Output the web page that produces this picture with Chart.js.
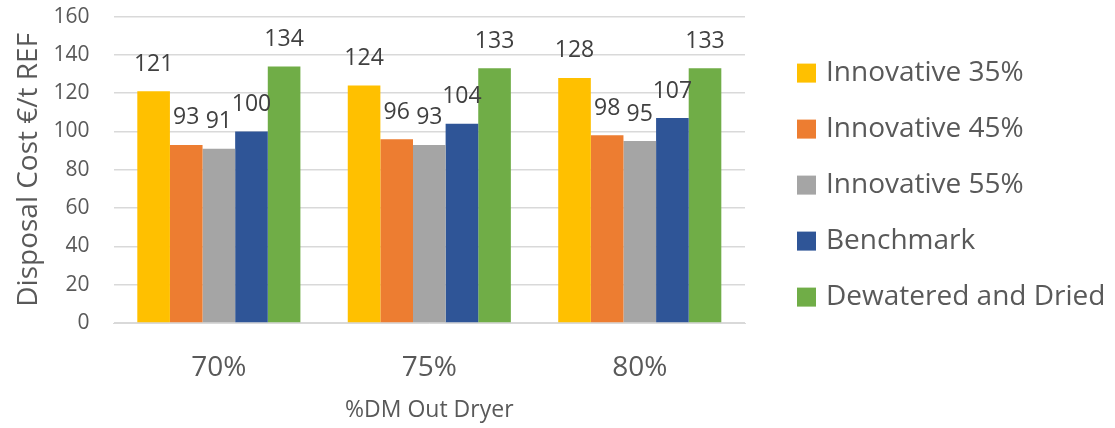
<!DOCTYPE html>
<html>
<head>
<meta charset="utf-8">
<script src="https://cdn.jsdelivr.net/npm/chart.js@4"></script>
<style>
  html, body { margin: 0; padding: 0; background: #fff; }
  #wrap { width: 1115px; height: 428px; }
</style>
</head>
<body>
<div id="wrap"><canvas id="myChart" width="1115" height="428"></canvas></div>
<script>
let categories = ['70%', '75%', '80%'];

let innovative35 = [121, 124, 128];
let innovative45 = [93, 96, 98];
let innovative55 = [91, 93, 95];
let benchmark = [100, 104, 107];
let dewatered = [134, 133, 133];

let seriesNames = ['Innovative 35%', 'Innovative 45%', 'Innovative 55%', 'Benchmark', 'Dewatered and Dried'];
let seriesColors = ['#FFC000', '#ED7D31', '#A5A5A5', '#2F5597', '#70AD47'];

let yTicks = [0, 20, 40, 60, 80, 100, 120, 140, 160];

const fontName = '"Open Sans", sans-serif';
const textColor = '#595959';

// value labels above each bar
const barLabels = {
    id: 'barLabels',
    afterDatasetsDraw(chart) {
        const ctx = chart.ctx;
        ctx.save();
        ctx.font = '23px ' + fontName;
        ctx.fillStyle = '#404040';
        ctx.textAlign = 'center';
        ctx.textBaseline = 'middle';
        chart.data.datasets.forEach((ds, i) => {
            chart.getDatasetMeta(i).data.forEach((bar, j) => {
                ctx.fillText(ds.data[j], bar.x, bar.y - 27);
            });
        });
        ctx.restore();
    }
};

// legend on the right side
const sideLegend = {
    id: 'sideLegend',
    afterDraw(chart) {
        const ctx = chart.ctx;
        const area = chart.chartArea;
        ctx.save();
        ctx.font = '28px ' + fontName;
        ctx.textBaseline = 'middle';
        ctx.textAlign = 'left';
        chart.data.datasets.forEach((ds, i) => {
            const cy = area.top + 56 + i * 56;
            const bx = area.right + 52;
            ctx.fillStyle = ds.backgroundColor;
            ctx.fillRect(bx, cy - 9, 19, 19);
            ctx.fillStyle = textColor;
            ctx.fillText(ds.label, bx + 29, cy);
        });
        ctx.restore();
    }
};

const datasets = [innovative35, innovative45, innovative55, benchmark, dewatered].map((values, i) => ({
    label: seriesNames[i],
    data: values,
    backgroundColor: seriesColors[i],
    borderWidth: 0,
    categoryPercentage: 0.775,
    barPercentage: 1
}));

const chart = document.getElementById('myChart').getContext('2d');
const myChart = new Chart(chart, {
    type: 'bar',
    data: {
        labels: categories,
        datasets: datasets
    },
    options: {
        responsive: false,
        animation: false,
        layout: {
            padding: { top: 0, right: 370, bottom: 0, left: 12 }
        },
        plugins: {
            legend: { display: false },
            tooltip: { enabled: false }
        },
        scales: {
            x: {
                afterFit(axis) {
                    axis.height = 105;
                },
                grid: { display: false },
                border: { color: '#d9d9d9' },
                ticks: {
                    color: textColor,
                    font: { family: fontName, size: 28 },
                    padding: 20
                },
                title: {
                    display: true,
                    text: '%DM Out Dryer',
                    color: textColor,
                    font: { family: fontName, size: 23 },
                    padding: { top: 0, bottom: 4 }
                }
            },
            y: {
                min: 0,
                max: 160,
                afterBuildTicks(axis) {
                    axis.ticks = yTicks.map(v => ({ value: v }));
                },
                grid: { color: '#d9d9d9', lineWidth: 1.5, drawTicks: true, tickLength: 20, tickColor: 'rgba(0,0,0,0)' },
                border: { display: false },
                ticks: {
                    color: textColor,
                    font: { family: fontName, size: 21 },
                    padding: 4
                },
                title: {
                    display: true,
                    text: 'Disposal Cost €/t REF',
                    color: textColor,
                    font: { family: fontName, size: 28 },
                    padding: { top: 0, bottom: 4 }
                }
            }
        }
    },
    plugins: [barLabels, sideLegend]
});
</script>
</body>
</html>
